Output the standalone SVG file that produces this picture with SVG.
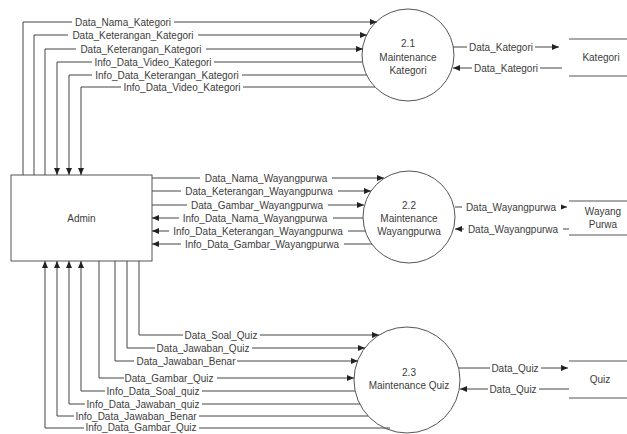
<svg xmlns="http://www.w3.org/2000/svg" width="627" height="434" viewBox="0 0 627 434">
  <style>
    text { font-family: "Liberation Sans", Arial, sans-serif; font-size: 10px; fill: #3c3c3c; text-anchor: middle; }
    .shape { fill: #fff; stroke: #555; stroke-width: 1; }
    .store { stroke: #555; stroke-width: 1.2; fill: none; }
    .flow path { fill: none; stroke: #444; stroke-width: 1; }
    .flow .arr { marker-end: url(#ah); }
    .bg { fill: #fff; }
  </style>
  <defs>
    <marker id="ah" viewBox="0 0 7 6" refX="7" refY="3" markerWidth="7" markerHeight="6" markerUnits="userSpaceOnUse" orient="auto">
      <path d="M0,0 L7,3 L0,6 z" fill="#222"/>
    </marker>
  </defs>
  <rect width="627" height="434" fill="#fff"/>

  <!-- External entity -->
  <g id="admin">
    <rect class="shape" x="11" y="175" width="141" height="86"/>
    <text x="81.5" y="221.5">Admin</text>
  </g>

  <!-- Processes -->
  <g id="p21">
    <circle class="shape" cx="408" cy="55" r="46"/>
    <text x="408" y="47">2.1</text>
    <text x="408" y="61">Maintenance</text>
    <text x="408" y="74">Kategori</text>
  </g>
  <g id="p22">
    <circle class="shape" cx="409" cy="217" r="46"/>
    <text x="409" y="208.5">2.2</text>
    <text x="409" y="221.5">Maintenance</text>
    <text x="409" y="234.5">Wayangpurwa</text>
  </g>
  <g id="p23">
    <circle class="shape" cx="407" cy="380" r="53"/>
    <text x="409" y="375.5">2.3</text>
    <text x="409" y="388.5">Maintenance Quiz</text>
  </g>

  <!-- Data stores -->
  <g id="kategori">
    <path class="store" d="M569,39 H627 M569,76 H627"/>
    <text x="601" y="61">Kategori</text>
  </g>
  <g id="wayang-purwa">
    <path class="store" d="M569,201 H627 M569,235 H627"/>
    <text x="603" y="215">Wayang</text>
    <text x="603" y="228">Purwa</text>
  </g>
  <g id="quiz">
    <path class="store" d="M569,361 H627 M569,398 H627"/>
    <text x="600" y="383">Quiz</text>
  </g>

  <!-- Data flows -->
  <g id="connectors" class="flow">
    <!-- Admin <-> 2.1 -->
    <path class="arr" d="M23,175 V22 H377"/>
    <rect class="bg" x="72" y="17" width="102" height="10"/>
    <text x="123" y="25.5">Data_Nama_Kategori</text>

    <path class="arr" d="M34,175 V35 H367"/>
    <rect class="bg" x="68" y="30" width="130" height="10"/>
    <text x="133" y="38.5">Data_Keterangan_Kategori</text>

    <path class="arr" d="M45,175 V49 H363"/>
    <rect class="bg" x="76" y="44" width="130" height="10"/>
    <text x="141" y="52.5">Data_Keterangan_Kategori</text>

    <path class="arr" d="M362,62 H57 V175"/>
    <rect class="bg" x="92" y="57" width="122" height="10"/>
    <text x="153" y="65.5">Info_Data_Video_Kategori</text>

    <path class="arr" d="M367,75 H69 V175"/>
    <rect class="bg" x="92" y="70" width="150" height="10"/>
    <text x="167" y="78.5">Info_Data_Keterangan_Kategori</text>

    <path class="arr" d="M375,87 H81 V175"/>
    <rect class="bg" x="121" y="82" width="122" height="10"/>
    <text x="182" y="90.5">Info_Data_Video_Kategori</text>

    <!-- 2.1 <-> Kategori -->
    <path class="arr" d="M453,47 H559"/>
    <rect class="bg" x="467" y="42" width="68" height="10"/>
    <text x="501" y="50.5">Data_Kategori</text>

    <path class="arr" d="M562,68 H453"/>
    <rect class="bg" x="472" y="63" width="68" height="10"/>
    <text x="506" y="71.5">Data_Kategori</text>

    <!-- Admin <-> 2.2 -->
    <path class="arr" d="M152,178 H384"/>
    <rect class="bg" x="200" y="173" width="132" height="10"/>
    <text x="266" y="181.5">Data_Nama_Wayangpurwa</text>

    <path class="arr" d="M152,191 H371"/>
    <rect class="bg" x="181" y="186" width="157" height="10"/>
    <text x="259" y="194.5">Data_Keterangan_Wayangpurwa</text>

    <path class="arr" d="M152,205 H364"/>
    <rect class="bg" x="187" y="200" width="141" height="10"/>
    <text x="257" y="208.5">Data_Gambar_Wayangpurwa</text>

    <path class="arr" d="M363,218 H152"/>
    <rect class="bg" x="179" y="213" width="154" height="10"/>
    <text x="255" y="221.5">Info_Data_Nama_Wayangpurwa</text>

    <path class="arr" d="M365,231 H152"/>
    <rect class="bg" x="169" y="226" width="179" height="10"/>
    <text x="258" y="234.5">Info_Data_Keterangan_Wayangpurwa</text>

    <path class="arr" d="M372,244 H152"/>
    <rect class="bg" x="181" y="239" width="163" height="10"/>
    <text x="262" y="247.5">Info_Data_Gambar_Wayangpurwa</text>

    <!-- 2.2 <-> Wayang Purwa -->
    <path class="arr" d="M455,207 H567"/>
    <rect class="bg" x="462" y="202" width="99" height="10"/>
    <text x="511" y="210.5">Data_Wayangpurwa</text>

    <path class="arr" d="M569,229 H455"/>
    <rect class="bg" x="464" y="224" width="99" height="10"/>
    <text x="513" y="232.5">Data_Wayangpurwa</text>

    <!-- Admin <-> 2.3 -->
    <path class="arr" d="M139,261 V335 H379"/>
    <rect class="bg" x="183" y="330" width="77" height="10"/>
    <text x="221" y="338.5">Data_Soal_Quiz</text>

    <path class="arr" d="M127,261 V348 H365"/>
    <rect class="bg" x="155" y="343" width="97" height="10"/>
    <text x="203" y="351.5">Data_Jawaban_Quiz</text>

    <path class="arr" d="M115,261 V361 H358"/>
    <rect class="bg" x="134" y="356" width="103" height="10"/>
    <text x="186" y="364.5">Data_Jawaban_Benar</text>

    <path class="arr" d="M99,261 V378 H354"/>
    <rect class="bg" x="124" y="373" width="93" height="10"/>
    <text x="169" y="381.5">Data_Gambar_Quiz</text>

    <path class="arr" d="M355,391 H81 V261"/>
    <rect class="bg" x="105" y="386" width="97" height="10"/>
    <text x="153" y="394.5">Info_Data_Soal_quiz</text>

    <path class="arr" d="M360,404 H69 V261"/>
    <rect class="bg" x="85" y="399" width="117" height="10"/>
    <text x="143" y="407.5">Info_Data_Jawaban_quiz</text>

    <path class="arr" d="M368,416 H57 V261"/>
    <rect class="bg" x="74" y="411" width="125" height="10"/>
    <text x="136" y="419.5">Info_Data_Jawaban_Benar</text>

    <path class="arr" d="M390,428 H45 V261"/>
    <rect class="bg" x="84" y="423" width="115" height="10"/>
    <text x="141" y="431">Info_Data_Gambar_Quiz</text>

    <!-- 2.3 <-> Quiz -->
    <path class="arr" d="M459,368 H568"/>
    <rect class="bg" x="490" y="363" width="51" height="10"/>
    <text x="515" y="371.5">Data_Quiz</text>

    <path class="arr" d="M569,389 H460"/>
    <rect class="bg" x="488" y="384" width="51" height="10"/>
    <text x="513" y="392.5">Data_Quiz</text>
  </g>
</svg>
